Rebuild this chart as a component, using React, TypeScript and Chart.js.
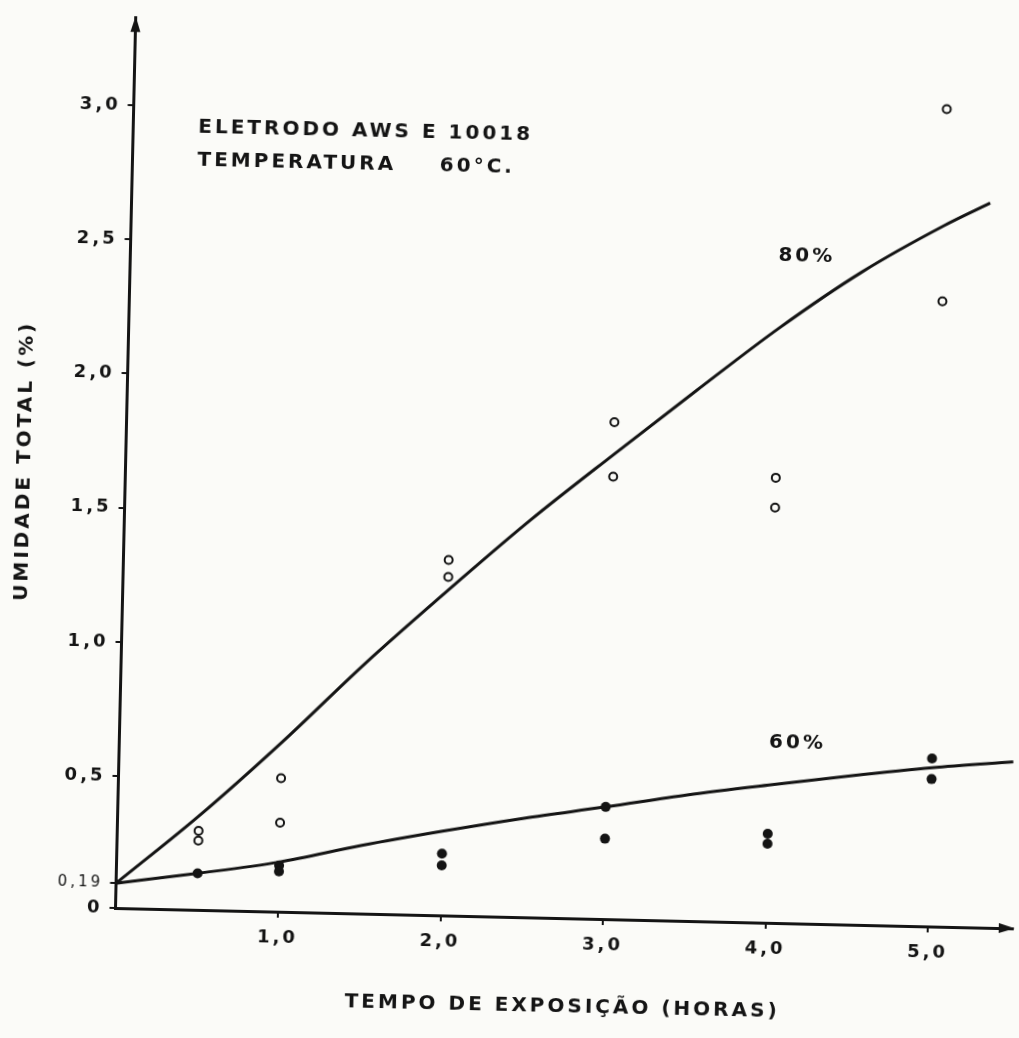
import React, { useEffect, useRef } from 'react';
import { Chart, LinearScale, registerables } from 'chart.js';

Chart.register(...registerables);

const INK = '#141414';
const PAPER = '#fbfbf8';
const FAMILY = '"DejaVu Sans", sans-serif';

// Axis ticks
const xTickValues = [1, 2, 3, 4, 5];
const xTickLabels = ['1,0', '2,0', '3,0', '4,0', '5,0'];
const yTickValues = [0, 0.19, 0.5, 1.0, 1.5, 2.0, 2.5, 3.0];
const yTickLabels = ['0', '0,19', '0,5', '1,0', '1,5', '2,0', '2,5', '3,0'];

// Measured points, 80% relative humidity (open circles)
const hours80 = [0.5, 0.5, 1, 1, 2, 2, 3, 3, 4, 4, 5, 5];
const moisture80 = [0.347, 0.319, 0.506, 0.376, 1.333, 1.27, 1.86, 1.657, 1.667, 1.556, 2.338, 3.054];

// Measured points, 60% relative humidity (filled dots)
const hours60 = [0.5, 1, 1, 2, 2, 3, 3, 4, 4, 5, 5];
const moisture60 = [0.224, 0.252, 0.235, 0.297, 0.263, 0.443, 0.351, 0.376, 0.347, 0.635, 0.558];

// Fitted curves
const curveHours80 = [0, 0.5, 1, 1.5, 2, 2.5, 3, 3.5, 4, 4.5, 5, 5.28];
const curveMoisture80 = [0.19, 0.39, 0.64, 0.94, 1.22, 1.49, 1.74, 1.985, 2.225, 2.44, 2.62, 2.708];
const curveHours60 = [0, 0.5, 1, 1.5, 2, 2.5, 3, 3.5, 4, 4.5, 5, 5.5];
const curveMoisture60 = [0.19, 0.224, 0.262, 0.315, 0.362, 0.405, 0.443, 0.483, 0.522, 0.563, 0.6, 0.629];

// Text notes on the plot
const noteTexts = ['ELETRODO AWS E 10018', 'TEMPERATURA', '60°C.', '80%', '60%'];
const noteX = [0.4, 0.4, 1.89, 4.16, 4.17];
const noteY = [2.922, 2.8, 2.8, 2.493, 0.679];
const noteAlign: CanvasTextAlign[] = ['left', 'left', 'left', 'center', 'center'];

const xTitle = 'TEMPO DE EXPOSIÇÃO (HORAS)';
const yTitle = 'UMIDADE TOTAL (%)';

const X_MAX = 5.52;
const Y_MAX = 3.325;

// The hand-drawn ordinate is regular from 0,5 upward, but its first two
// intervals (0 -> 0,19 -> 0,5) are drawn at their own lengths, expressed
// here in units of the regular part.
const warp = (v: number) => {
  if (v <= 0.19) return (v / 0.19) * 0.0923;
  if (v <= 0.5) return 0.0923 + ((v - 0.19) / 0.31) * (0.4911 - 0.0923);
  return 0.4911 + (v - 0.5);
};
const unwarp = (w: number) => {
  if (w <= 0.0923) return (w / 0.0923) * 0.19;
  if (w <= 0.4911) return 0.19 + ((w - 0.0923) / (0.4911 - 0.0923)) * 0.31;
  return 0.5 + (w - 0.4911);
};

class HandDrawnScale extends (LinearScale as any) {
  static id = 'handDrawn';
  static defaults = (LinearScale as any).defaults;
  getPixelForValue(value: number) {
    if (value === null || value === undefined || isNaN(value)) return NaN;
    return this.getPixelForDecimal((warp(value) - warp(this.min)) / (warp(this.max) - warp(this.min)));
  }
  getValueForPixel(pixel: number) {
    const d = this.getDecimalForPixel(pixel);
    return unwarp(warp(this.min) + d * (warp(this.max) - warp(this.min)));
  }
}
Chart.register(HandDrawnScale as any);

const toPoints = (xs: number[], ys: number[]) => xs.map((x, i) => ({ x, y: ys[i] }));

const decorPlugin = {
  id: 'decor',
  beforeDraw(chart: any) {
    (chart.ctx as any).letterSpacing = '3px';
  },
  afterDraw(chart: any) {
    const { ctx, chartArea, scales } = chart;
    const xs = scales.x;
    const ys = scales.y;
    ctx.save();
    ctx.fillStyle = INK;
    const ox = chartArea.left;
    const oy = chartArea.bottom;
    ctx.beginPath();
    ctx.moveTo(ox, chartArea.top - 2);
    ctx.lineTo(ox - 5, chartArea.top + 14);
    ctx.lineTo(ox + 5, chartArea.top + 14);
    ctx.closePath();
    ctx.fill();
    ctx.beginPath();
    ctx.moveTo(chartArea.right + 2, oy);
    ctx.lineTo(chartArea.right - 14, oy - 5);
    ctx.lineTo(chartArea.right - 14, oy + 5);
    ctx.closePath();
    ctx.fill();
    ctx.font = `bold 20px ${FAMILY}`;
    ctx.textBaseline = 'middle';
    noteTexts.forEach((t, i) => {
      ctx.textAlign = noteAlign[i];
      ctx.fillText(t, xs.getPixelForValue(noteX[i]), ys.getPixelForValue(noteY[i]));
    });
    ctx.restore();
  },
};

export default function App() {
  const ref = useRef<HTMLCanvasElement>(null);

  useEffect(() => {
    const canvas = ref.current;
    if (!canvas) return;
    Chart.defaults.font.family = FAMILY;
    const chart = new Chart(canvas, {
      type: 'scatter',
      data: {
        datasets: [
          {
            label: 'curva 80%',
            data: toPoints(curveHours80, curveMoisture80),
            showLine: true,
            borderColor: INK,
            borderWidth: 3,
            pointRadius: 0,
            cubicInterpolationMode: 'monotone',
            fill: false,
            clip: false,
          } as any,
          {
            label: 'curva 60%',
            data: toPoints(curveHours60, curveMoisture60),
            showLine: true,
            borderColor: INK,
            borderWidth: 3,
            pointRadius: 0,
            cubicInterpolationMode: 'monotone',
            fill: false,
            clip: false,
          } as any,
          {
            label: '80%',
            data: toPoints(hours80, moisture80),
            pointStyle: 'circle',
            pointRadius: 4,
            pointBorderWidth: 2,
            pointBorderColor: INK,
            pointBackgroundColor: PAPER,
            clip: false,
          } as any,
          {
            label: '60%',
            data: toPoints(hours60, moisture60),
            pointStyle: 'circle',
            pointRadius: 5,
            pointBorderWidth: 0,
            pointBackgroundColor: INK,
            clip: false,
          } as any,
        ],
      },
      options: {
        animation: false,
        responsive: false,
        devicePixelRatio: 1,
        events: [],
        layout: { padding: { left: 0, top: 10, right: 3.5, bottom: 0 } },
        plugins: { legend: { display: false }, tooltip: { enabled: false } },
        scales: {
          x: {
            type: 'linear',
            min: 0,
            max: X_MAX,
            afterBuildTicks: (s: any) => {
              s.ticks = xTickValues.map((v) => ({ value: v }));
            },
            afterFit: (s: any) => {
              s.height = 130;
            },
            ticks: {
              autoSkip: false,
              maxRotation: 0,
              color: INK,
              padding: 10,
              font: { size: 18, weight: 'bold' },
              callback: (v: any) => {
                const i = xTickValues.indexOf(Number(v));
                return i >= 0 ? xTickLabels[i] : '';
              },
            },
            grid: { drawOnChartArea: false, drawTicks: true, tickLength: 6, color: INK, lineWidth: 2 },
            border: { display: true, color: INK, width: 3 },
            title: {
              display: true,
              text: xTitle,
              color: INK,
              font: { size: 20, weight: 'bold' },
              padding: { top: 0, bottom: 29 },
            },
          },
          y: {
            type: 'handDrawn',
            min: 0,
            max: Y_MAX,
            afterBuildTicks: (s: any) => {
              s.ticks = yTickValues.map((v) => ({ value: v }));
            },
            afterFit: (s: any) => {
              s.width = 115.5;
            },
            ticks: {
              autoSkip: false,
              color: INK,
              padding: 7,
              font: (c: any) =>
                c.tick && c.tick.value === 0.19
                  ? { size: 15, weight: 'normal' }
                  : { size: 18, weight: 'bold' },
              callback: (v: any) => {
                const i = yTickValues.indexOf(Number(v));
                return i >= 0 ? yTickLabels[i] : '';
              },
            },
            grid: { drawOnChartArea: false, drawTicks: true, tickLength: 6, color: INK, lineWidth: 2 },
            border: { display: true, color: INK, width: 3 },
            title: {
              display: true,
              text: yTitle,
              color: INK,
              font: { size: 20, weight: 'bold' },
              padding: { top: 3, bottom: 0 },
            },
          },
        },
      } as any,
      plugins: [decorPlugin],
    });
    return () => chart.destroy();
  }, []);

  return (
    <div
      style={{
        position: 'fixed',
        left: 0,
        top: 0,
        width: 1019,
        height: 1038,
        background: PAPER,
        overflow: 'hidden',
      }}
    >
      <canvas
        ref={ref}
        width={1019}
        height={1038}
        style={{
          position: 'absolute',
          left: 0,
          top: 0,
          width: 1019,
          height: 1038,
          transform: 'rotate(1.3deg)',
          transformOrigin: '115.5px 908px',
        }}
      />
    </div>
  );
}
